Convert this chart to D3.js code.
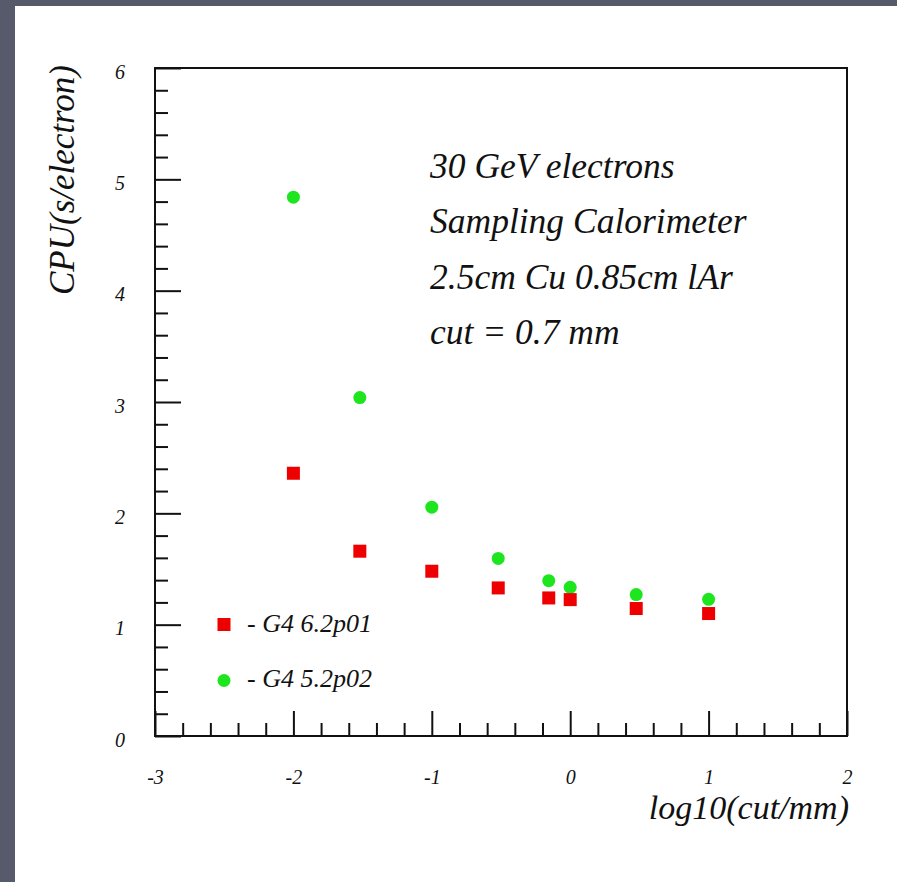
<!DOCTYPE html>
<html>
<head>
<meta charset="utf-8">
<script src="https://cdn.jsdelivr.net/npm/d3@7"></script>
<style>
	html, body { margin: 0; padding: 0; background: #575a6b; }
	svg { display: block; }
	text { font-family: "Liberation Serif", "Times New Roman", serif; font-style: italic; fill: #111; }
</style>
</head>
<body>
<script>
// cut values converted to log10(cut/mm)
var cutLog = [-2, -1.52, -1, -0.52, -0.155, 0, 0.477, 1];
// CPU time per electron, s
var cpuNew = [2.36, 1.66, 1.48, 1.33, 1.24, 1.225, 1.145, 1.10];   // G4 6.2p01
var cpuOld = [4.84, 3.04, 2.055, 1.595, 1.395, 1.335, 1.27, 1.228]; // G4 5.2p02
var xTicks = [-3, -2, -1, 0, 1, 2];
var yTicks = [0, 1, 2, 3, 4, 5, 6];
var notes = ['30 GeV electrons', 'Sampling Calorimeter', '2.5cm Cu 0.85cm lAr', 'cut = 0.7 mm'];
var legendNames = ['- G4 6.2p01', '- G4 5.2p02'];

var W = 897, H = 882;
var box = {left: 155, right: 847, top: 68, bottom: 736};

var svg = d3.select('body').append('svg')
	.attr('width', W).attr('height', H);

// white slide panel
svg.append('rect')
	.attr('x', 15).attr('y', 6)
	.attr('width', W - 15).attr('height', H - 6)
	.style('fill', '#fff');

var x = d3.scaleLinear().domain([-3, 2]).range([box.left, box.right]);
var y = d3.scaleLinear().domain([0, 6]).range([box.bottom, box.top]);

// plain hyphen for negatives, like the original
var fmt = function(d) { return d < 0 ? '-' + (-d) : String(d); };

// minor ticks every 0.2, skipping the integer ones
function minors(lo, hi) {
	return d3.range(lo * 5, hi * 5 + 1).filter(function(i) { return i % 5 !== 0; })
		.map(function(i) { return i / 5; });
}

function styleAxis(g) {
	g.select('.domain').remove();
	g.selectAll('line').style('stroke', '#111').style('stroke-width', 2);
	g.selectAll('text')
		.style('font-family', '"Liberation Serif", serif')
		.style('font-size', '20px')
		.style('fill', '#111');
}

svg.append('g')
	.attr('transform', 'translate(' + box.left + ',0)')
	.call(d3.axisLeft(y).tickValues(minors(0, 6)).tickSize(-13).tickFormat(''))
	.call(styleAxis);

svg.append('g')
	.attr('transform', 'translate(' + box.left + ',0)')
	.call(d3.axisLeft(y).tickValues(yTicks).tickSize(-26).tickPadding(30).tickFormat(fmt))
	.call(styleAxis)
	.call(function(g) { g.selectAll('text').attr('dy', '0.5em'); });

svg.append('g')
	.attr('transform', 'translate(0,' + box.bottom + ')')
	.call(d3.axisBottom(x).tickValues(minors(-3, 2)).tickSize(-13).tickFormat(''))
	.call(styleAxis);

svg.append('g')
	.attr('transform', 'translate(0,' + box.bottom + ')')
	.call(d3.axisBottom(x).tickValues(xTicks).tickSize(-25).tickPadding(48).tickFormat(fmt))
	.call(styleAxis)
	.call(function(g) { g.selectAll('text').attr('dy', '0'); });

// frame
svg.append('rect')
	.attr('x', box.left).attr('y', box.top)
	.attr('width', box.right - box.left).attr('height', box.bottom - box.top)
	.style('fill', 'none')
	.style('stroke', '#111')
	.style('stroke-width', 2);

// axis titles
svg.append('text')
	.attr('x', 849).attr('y', 819)
	.attr('text-anchor', 'end')
	.style('font-size', '34px')
	.text('log10(cut/mm)');

svg.append('text')
	.attr('transform', 'translate(74,180) rotate(-90)')
	.attr('text-anchor', 'middle')
	.style('font-size', '35px')
	.text('CPU(s/electron)');

// annotation
svg.append('g').selectAll('text')
	.data(notes)
	.enter().append('text')
	.attr('x', 430)
	.attr('y', function(d, i) { return 178 + i * 55.3; })
	.style('font-size', '35.5px')
	.text(function(d) { return d; });

// data points
var pts = cutLog.map(function(c, i) { return {c: c, a: cpuNew[i], b: cpuOld[i]}; });

svg.append('g').selectAll('circle')
	.data(pts)
	.enter().append('circle')
	.attr('cx', function(d) { return x(d.c); })
	.attr('cy', function(d) { return y(d.b); })
	.attr('r', 6.5)
	.style('fill', '#1ee61e');

svg.append('g').selectAll('rect')
	.data(pts)
	.enter().append('rect')
	.attr('x', function(d) { return x(d.c) - 6.5; })
	.attr('y', function(d) { return y(d.a) - 6.5; })
	.attr('width', 13).attr('height', 13)
	.style('fill', '#ee0000');

// legend
var leg = svg.append('g');
leg.append('rect')
	.attr('x', 224 - 6.5).attr('y', 624.5 - 6.5)
	.attr('width', 13).attr('height', 13)
	.style('fill', '#ee0000');
leg.append('circle')
	.attr('cx', 224).attr('cy', 680.5)
	.attr('r', 6.5)
	.style('fill', '#1ee61e');
leg.selectAll('text')
	.data(legendNames)
	.enter().append('text')
	.attr('x', 247)
	.attr('y', function(d, i) { return 632 + i * 55; })
	.style('font-size', '26px')
	.text(function(d) { return d; });
</script>
</body>
</html>
